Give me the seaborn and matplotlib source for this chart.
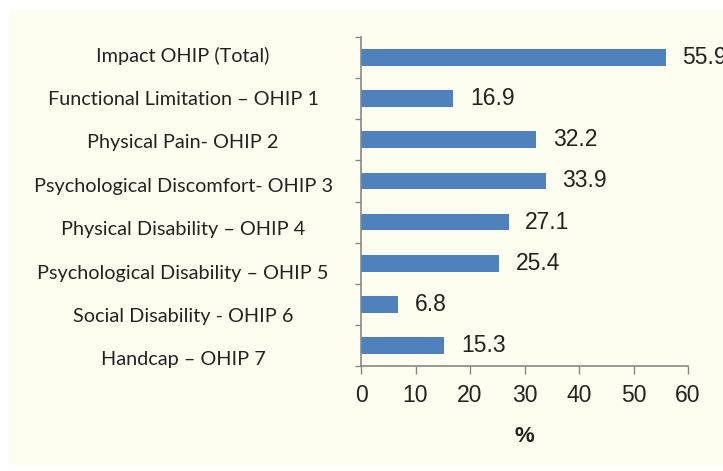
import matplotlib
matplotlib.use("Agg")
import matplotlib.pyplot as plt
import seaborn as sns
import pandas as pd
import numpy as np

# categories (top to bottom) and their percentages
categories = [
    "Impact OHIP (Total)",
    "Functional Limitation \u2013 OHIP 1",
    "Physical Pain- OHIP 2",
    "Psychological Discomfort- OHIP 3",
    "Physical Disability \u2013 OHIP 4",
    "Psychological Disability \u2013 OHIP 5",
    "Social Disability - OHIP 6",
    "Handcap \u2013 OHIP 7",
]
percent = [55.9, 16.9, 32.2, 33.9, 27.1, 25.4, 6.8, 15.3]
x_ticks = [0, 10, 20, 30, 40, 50, 60]

df = pd.DataFrame({"cat": categories, "pct": percent})

W, H = 723, 471
fig = plt.figure(figsize=(W / 100, H / 100), dpi=100, facecolor="white")
# cream panel behind the chart
fig.patches.append(plt.Rectangle((9 / W, 6 / H), 1 - 9 / W, 1 - 15 / H,
                                 transform=fig.transFigure, facecolor="#FEFEF0",
                                 edgecolor="none", zorder=-10))

ax = fig.add_axes([361 / W, 1 - 366 / H, (688 - 361) / W, (366 - 37) / H])
ax.set_facecolor("none")

sns.barplot(data=df, x="pct", y="cat", orient="h", color="#4F81BD",
            saturation=1, width=0.41, ax=ax)

ax.set_xlim(0, 60)
ax.set_ylim(len(categories) - 0.5, -0.5)
ax.set_xticks(x_ticks)
ax.set_xticklabels([str(t) for t in x_ticks], fontsize=16.5,
                   family="Liberation Sans", color="#222222")
ax.tick_params(axis="x", length=6, width=1, color="#888888", pad=7)
ax.set_xlabel("%", fontsize=16, family="Liberation Sans", fontweight="bold",
              color="#222222", labelpad=14)
ax.set_ylabel("")

# y ticks: marks on category boundaries, labels on a separate axis
ax.set_yticks(np.arange(-0.5, len(categories), 1.0))
ax.set_yticklabels([])
ax.tick_params(axis="y", length=4, width=1, color="#888888")

for side in ["top", "right"]:
    ax.spines[side].set_visible(False)
for side in ["left", "bottom"]:
    ax.spines[side].set_color("#888888")
    ax.spines[side].set_linewidth(1.2)

for cont in ax.containers:
    ax.bar_label(cont, fmt="%.1f", padding=12, fontsize=16.5,
                 family="Liberation Sans", color="#222222", clip_on=False)

# category labels, spaced a bit wider than the bars
lab_ax = fig.add_axes([0, 1 - 381.7 / H, 1, (381.7 - 34.3) / H])
lab_ax.set_xlim(0, 1)
lab_ax.set_ylim(len(categories) - 0.5, -0.5)
lab_ax.axis("off")
for i, c in enumerate(categories):
    lab_ax.text(183 / W, i, c, ha="center", va="center", fontsize=14.3,
                family="Lato", color="#222222")

fig.savefig("out.png", dpi=100, facecolor="white")
